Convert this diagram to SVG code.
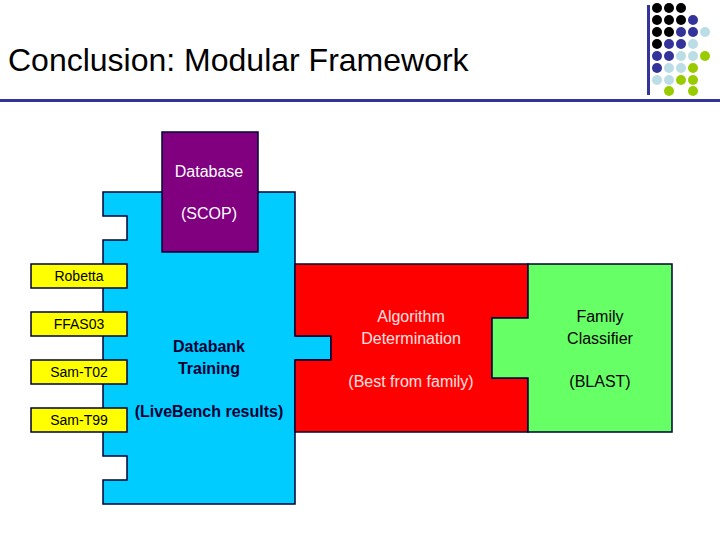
<svg xmlns="http://www.w3.org/2000/svg" width="720" height="540" viewBox="0 0 720 540">
<style>
text{font-family:"Liberation Sans",Arial,sans-serif}
.s{stroke:#000033;stroke-width:1.5}
.k{fill:#000}.n{fill:#333399}.l{fill:#bbdde6}.g{fill:#99cc00}
.lab{font-size:16px;text-anchor:middle}
.y{fill:#ffff00;stroke:#000033;stroke-width:1.5}
.yl{font-size:14px;text-anchor:middle}
</style>
<rect width="720" height="540" fill="#fff"/>
<g id="title"><text x="8" y="71" font-size="32" fill="#000">Conclusion: Modular Framework</text>
<rect x="0" y="99" width="720" height="3" fill="#333399"/>
<rect x="647" y="5" width="3" height="90" fill="#333399"/>
<g>
<circle cx="657" cy="8" r="5" class="k"/><circle cx="669" cy="8" r="5" class="k"/><circle cx="681" cy="8" r="5" class="k"/>
<circle cx="657" cy="20" r="5" class="k"/><circle cx="669" cy="20" r="5" class="k"/><circle cx="681" cy="20" r="5" class="k"/><circle cx="693" cy="20" r="5" class="n"/>
<circle cx="657" cy="32" r="5" class="k"/><circle cx="669" cy="32" r="5" class="k"/><circle cx="681" cy="32" r="5" class="n"/><circle cx="693" cy="32" r="5" class="n"/><circle cx="705" cy="32" r="5" class="l"/>
<circle cx="657" cy="44" r="5" class="k"/><circle cx="669" cy="44" r="5" class="n"/><circle cx="681" cy="44" r="5" class="n"/><circle cx="693" cy="44" r="5" class="l"/>
<circle cx="657" cy="56" r="5" class="n"/><circle cx="669" cy="56" r="5" class="n"/><circle cx="681" cy="56" r="5" class="l"/><circle cx="693" cy="56" r="5" class="l"/><circle cx="705" cy="56" r="5" class="g"/>
<circle cx="657" cy="68" r="5" class="n"/><circle cx="669" cy="68" r="5" class="l"/><circle cx="681" cy="68" r="5" class="l"/><circle cx="693" cy="68" r="5" class="g"/>
<circle cx="657" cy="80" r="5" class="l"/><circle cx="669" cy="80" r="5" class="l"/><circle cx="681" cy="80" r="5" class="g"/><circle cx="693" cy="80" r="5" class="g"/>
<circle cx="669" cy="91" r="5" class="g"/><circle cx="693" cy="91" r="5" class="g"/>
</g></g>
<g id="databank">
<path class="s" fill="#00ccff" d="M103,192 H295 V336 H331 V360 H295 V504 H103 V480 H127 V456 H103 V240 H127 V216 H103 Z"/>
<text class="lab" x="209" y="352" font-weight="bold" fill="#000033">Databank</text>
<text class="lab" x="209" y="374" font-weight="bold" fill="#000033">Training</text>
<text class="lab" x="209" y="417" font-weight="bold" fill="#000033">(LiveBench results)</text>
</g>
<g id="database">
<rect class="s" x="162" y="132" width="96" height="120" fill="#800080"/>
<text class="lab" x="209" y="177" fill="#fff">Database</text>
<text class="lab" x="209" y="219" fill="#fff">(SCOP)</text>
</g>
<g id="algorithm">
<path class="s" fill="#ff0000" d="M295,264 H528 V318 H492 V378 H528 V432 H295 V360 H331 V336 H295 Z"/>
<text class="lab" x="411" y="322" fill="#ffe0e0">Algorithm</text>
<text class="lab" x="411" y="344" fill="#ffe0e0">Determination</text>
<text class="lab" x="411" y="387" fill="#ffe0e0">(Best from family)</text>
</g>
<g id="family">
<path class="s" fill="#66ff66" d="M528,264 H672 V432 H528 V378 H492 V318 H528 Z"/>
<text class="lab" x="600" y="322" fill="#000">Family</text>
<text class="lab" x="600" y="344" fill="#000">Classifier</text>
<text class="lab" x="600" y="387" fill="#000">(BLAST)</text>
</g>
<g id="robetta"><rect class="y" x="31" y="264" width="96" height="24"/><text class="yl" x="79" y="281">Robetta</text></g>
<g id="ffas03"><rect class="y" x="31" y="312" width="96" height="24"/><text class="yl" x="79" y="329">FFAS03</text></g>
<g id="samt02"><rect class="y" x="31" y="360" width="96" height="24"/><text class="yl" x="79" y="377">Sam-T02</text></g>
<g id="samt99"><rect class="y" x="31" y="408" width="96" height="24"/><text class="yl" x="79" y="425">Sam-T99</text></g>
<g id="connectors"/>
</svg>
